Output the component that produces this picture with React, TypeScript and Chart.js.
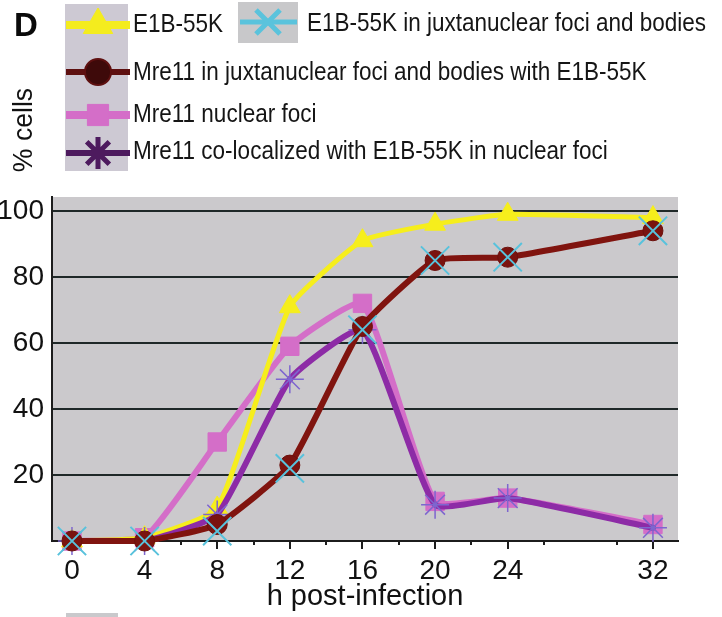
import React, { useEffect, useRef } from 'react';
import { Chart, registerables } from 'chart.js';
import { drawPoint } from 'chart.js/helpers';

Chart.register(...registerables);

// ---------- data ----------
const hours = [0, 4, 8, 12, 16, 20, 24, 32];
const xTickValues = [0, 4, 8, 12, 16, 20, 24, 32];
const xMinorTicks = [6, 10, 14, 18, 22, 26, 30];
const yTickValues = [0, 20, 40, 60, 80, 100];

const seriesNames = [
  'E1B-55K',
  'E1B-55K in juxtanuclear foci and bodies',
  'Mre11 in juxtanuclear foci and bodies with E1B-55K',
  'Mre11 nuclear foci',
  'Mre11 co-localized with E1B-55K in nuclear foci',
];

const e1b55k = [0, 1, 10, 71, 91, 96, 99, 98];
const e1b55kJuxta = [0, 0, 3, 22, 64, 85, 86, 94];
const mre11Juxta = [0, 0, 5, 23, 65, 85, 86, 94];
const mre11Nuclear = [0, 1, 30, 59, 72, 12, 13, 5];
const mre11Coloc = [0, 0, 8, 49, 64, 11, 13, 4];

const axisTitleX = 'h post-infection';
const axisTitleY = '% cells';
const panelLabel = 'D';

const FONT = '"Liberation Sans", Arial, Helvetica, sans-serif';

const pts = (arr: number[]) => hours.map((h, i) => ({ x: h, y: arr[i] }));

// ---------- plugins ----------
const plotBg = {
  id: 'plotBg',
  beforeDraw(chart: any) {
    const { ctx, chartArea } = chart;
    ctx.save();
    ctx.fillStyle = '#cbc9cc';
    ctx.fillRect(chartArea.left, chartArea.top, chartArea.right - chartArea.left, chartArea.bottom - chartArea.top);
    ctx.restore();
  },
};

const overlay = {
  id: 'overlay',
  afterDraw(chart: any) {
    const { ctx } = chart;
    const xs = chart.scales.x;
    ctx.save();

    // minor ticks
    ctx.strokeStyle = '#1c1c1c';
    ctx.lineWidth = 2;
    xMinorTicks.forEach((v) => {
      const px = Math.round(xs.getPixelForValue(v));
      ctx.beginPath();
      ctx.moveTo(px, xs.top);
      ctx.lineTo(px, xs.top + 4);
      ctx.stroke();
    });

    // panel label
    ctx.fillStyle = '#0a0a0a';
    ctx.font = `bold 33px ${FONT}`;
    ctx.textAlign = 'left';
    ctx.textBaseline = 'middle';
    ctx.fillText(panelLabel, 14, 27);

    // y title
    ctx.save();
    ctx.translate(24, 130);
    ctx.rotate(-Math.PI / 2);
    ctx.textAlign = 'center';
    ctx.font = `28px ${FONT}`;
    ctx.fillStyle = '#111';
    ctx.scale(0.95, 1);
    ctx.fillText(axisTitleY, 0, 0);
    ctx.restore();

    // legend backgrounds
    ctx.fillStyle = '#cdc9d3';
    ctx.fillRect(65, 4, 63, 167);
    ctx.fillStyle = '#c8c8ca';
    ctx.fillRect(238, 2, 60, 41);
    ctx.fillStyle = '#c9c9cc';
    ctx.fillRect(66, 613, 52, 4);

    const items = [
      { i: 0, x0: 66, x1: 130, cx: 98, cy: 25, tx: 133, ty: 25, line: '#f4ec1e', lw: 8, style: 'triangle', r: 17, fill: '#f4ec1e', stroke: '#f4ec1e', bw: 1 },
      { i: 1, x0: 240, x1: 297, cx: 268, cy: 22, tx: 307, ty: 24, line: '#5ac3dc', lw: 5, style: 'crossRot', r: 17, fill: '#5ac3dc', stroke: '#5ac3dc', bw: 5 },
      { i: 2, x0: 66, x1: 130, cx: 98, cy: 72, tx: 133, ty: 73, line: '#5e1010', lw: 6, style: 'circle', r: 13, fill: '#3e0a0a', stroke: '#5e1010', bw: 2 },
      { i: 3, x0: 66, x1: 130, cx: 98, cy: 115, tx: 133, ty: 115, line: '#d46ec8', lw: 8, style: 'rect', r: 15, fill: '#d46ec8', stroke: '#d46ec8', bw: 1 },
      { i: 4, x0: 66, x1: 130, cx: 98, cy: 153, tx: 133, ty: 152, line: '#4d1a5e', lw: 6, style: 'star', r: 16, fill: '#4d1a5e', stroke: '#4d1a5e', bw: 5 },
    ];
    items.forEach((it) => {
      ctx.strokeStyle = it.line;
      ctx.lineWidth = it.lw;
      ctx.lineCap = 'butt';
      ctx.beginPath();
      ctx.moveTo(it.x0, it.cy);
      ctx.lineTo(it.x1, it.cy);
      ctx.stroke();
      ctx.fillStyle = it.fill;
      ctx.strokeStyle = it.stroke;
      ctx.lineWidth = it.bw;
      drawPoint(ctx, { pointStyle: it.style as any, radius: it.r, rotation: 0, borderWidth: it.bw }, it.cx, it.cy);
      ctx.save();
      ctx.fillStyle = '#151515';
      ctx.font = `25px ${FONT}`;
      ctx.textAlign = 'left';
      ctx.textBaseline = 'middle';
      ctx.translate(it.tx, it.ty);
      ctx.scale(0.9, 1);
      ctx.fillText(seriesNames[it.i], 0, 0);
      ctx.restore();
    });
    ctx.restore();
  },
};

export default function App() {
  const ref = useRef<HTMLCanvasElement>(null);

  useEffect(() => {
    const canvas = ref.current;
    if (!canvas) return;
    Chart.defaults.font.family = FONT;
    const chart = new Chart(canvas, {
      type: 'line',
      data: {
        datasets: [
          {
            label: seriesNames[1],
            data: pts(e1b55kJuxta),
            showLine: false,
            borderColor: '#58c2dc',
            pointStyle: 'crossRot',
            pointRadius: 20,
            pointBorderColor: '#58c2dc',
            pointBorderWidth: 2,
            clip: false as any,
          },
          {
            label: seriesNames[2],
            data: pts(mre11Juxta),
            borderColor: '#80140f',
            borderWidth: 6,
            pointStyle: 'circle',
            pointRadius: 10,
            pointBackgroundColor: '#7a130f',
            pointBorderColor: '#6c100c',
            pointBorderWidth: 1,
            clip: false as any,
          },
          {
            label: seriesNames[4],
            data: pts(mre11Coloc),
            borderColor: '#8d2ba6',
            borderWidth: 6,
            pointStyle: 'star',
            pointRadius: 14,
            pointBorderColor: '#7e66cf',
            pointBackgroundColor: '#7e66cf',
            pointBorderWidth: 1.5,
            clip: false as any,
          },
          {
            label: seriesNames[0],
            data: pts(e1b55k),
            borderColor: '#f6ee1c',
            borderWidth: 5,
            pointStyle: 'triangle',
            pointRadius: 12,
            pointBackgroundColor: '#f6ee1c',
            pointBorderColor: '#f6ee1c',
            pointBorderWidth: 1,
            clip: false as any,
          },
          {
            label: seriesNames[3],
            data: pts(mre11Nuclear),
            borderColor: '#d46ec8',
            borderWidth: 6,
            pointStyle: 'rect',
            pointRadius: 13,
            pointBackgroundColor: '#d46ec8',
            pointBorderColor: '#d46ec8',
            pointBorderWidth: 1,
            clip: false as any,
          },
        ],
      },
      options: {
        animation: false,
        responsive: false,
        events: [],
        layout: { padding: { top: 197, right: 44, left: 0, bottom: 0 } },
        elements: {
          line: { tension: 0.15, borderCapStyle: 'round', borderJoinStyle: 'round' },
        },
        plugins: {
          legend: { display: false },
          tooltip: { enabled: false },
        },
        scales: {
          x: {
            type: 'linear',
            min: -1.1,
            max: 33.38,
            afterBuildTicks: (s: any) => {
              s.ticks = xTickValues.map((v) => ({ value: v }));
            },
            afterFit: (s: any) => {
              s.height = 76;
            },
            grid: {
              display: true,
              drawOnChartArea: false,
              drawTicks: true,
              tickLength: 8,
              color: '#1c1c1c',
              lineWidth: 2,
              tickWidth: 2,
            },
            border: { display: true, color: '#1c1c1c', width: 2 },
            ticks: {
              font: { size: 28 },
              color: '#111',
              padding: 5,
              maxRotation: 0,
              autoSkip: false,
              callback: (v: any) => String(v),
            },
            title: {
              display: true,
              text: axisTitleX,
              font: { size: 29 },
              color: '#111',
              padding: { top: 0, bottom: 3 },
            },
          },
          y: {
            type: 'linear',
            min: 0,
            max: 104.24,
            afterBuildTicks: (s: any) => {
              s.ticks = yTickValues.map((v) => ({ value: v }));
            },
            afterFit: (s: any) => {
              s.width = 52;
            },
            grid: { color: '#1f2828', lineWidth: 2, drawTicks: false },
            border: { display: true, color: '#1c1c1c', width: 2 },
            ticks: {
              font: { size: 28 },
              color: '#111',
              padding: 8,
              callback: (v: any) => (v === 0 ? '' : String(v)),
            },
          },
        },
      },
      plugins: [plotBg, overlay],
    });
    return () => chart.destroy();
  }, []);

  return (
    <div style={{ position: 'fixed', left: 0, top: 0, width: 722, height: 617, background: '#fff' }}>
      <canvas ref={ref} width={722} height={617} style={{ display: 'block' }} />
    </div>
  );
}
